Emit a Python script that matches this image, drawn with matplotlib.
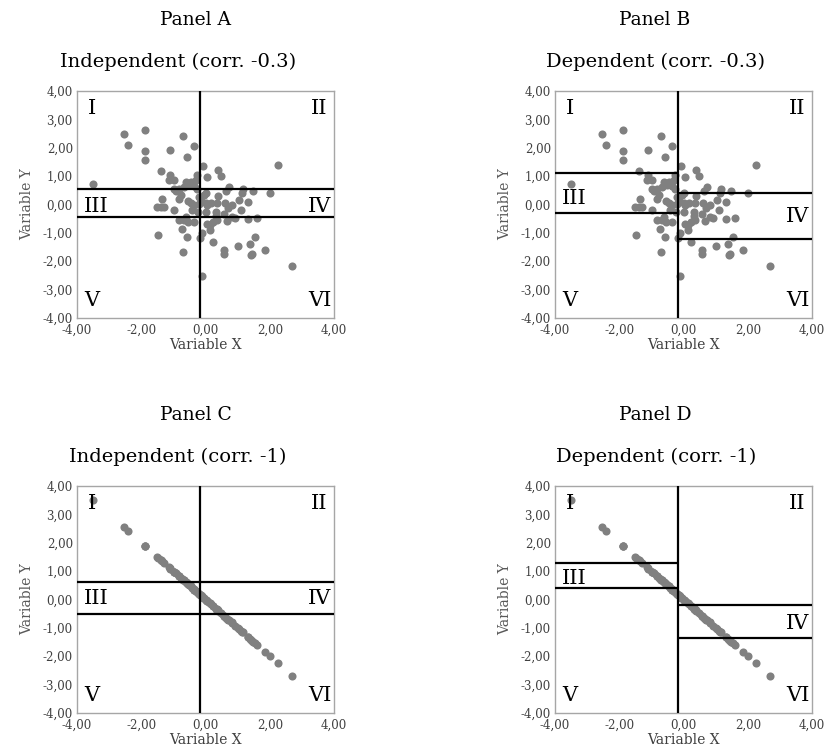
import matplotlib.pyplot as plt
from matplotlib.ticker import FuncFormatter

plt.rcParams['font.family'] = 'DejaVu Serif'

# values
x_vals = [-3.50, -2.55, -2.42, -1.88, -1.88, -1.88, -1.39, -1.09, -0.70, -0.36,
          -0.59, -1.10, -1.14, -0.98, -0.61, -0.46, -0.30, -0.67, -0.51, -0.35,
          -0.25, -0.98, -0.82, -1.34, -1.50, -1.38, -1.29, -0.98, -0.82, -0.77,
          -0.56, -0.46, -0.35, -0.41, -0.20, -0.20, -0.22, -0.67, -0.82, -0.56,
          -0.35, -0.61, -0.72, -1.47, -0.59, -0.70, -0.17, -0.10, -0.12, -0.07,
          0.38, 0.48, 0.05, 2.25, 0.74, 1.16, 1.49, 2.00, 1.14, 0.64,
          0.40, 0.03, 1.05, 1.33, 0.60, 0.81, 0.71, 1.12, 0.32, 0.17,
          0.03, 0.36, 1.59, 1.31, 0.92, 0.68, 0.35, 0.14, 0.14, 0.24,
          0.24, 0.57, 0.57, 1.02, 1.38, 1.54, 1.41, 1.46, 1.85, 2.68,
          0.06, 0.32, -0.05, 0.06, 0.84, 0.58, -0.92, -0.28, -0.15, 0.01]

y_partial = [0.72, 2.47, 2.09, 2.62, 1.87, 1.56, 1.19, 1.92, 2.42, 2.07,
             1.67, 1.04, 0.88, 0.88, 0.80, 0.80, 0.86, 0.62, 0.68, 0.65,
             1.04, 0.56, 0.56, 0.21, -0.08, -0.10, -0.08, -0.18, 0.21, 0.33,
             0.13, 0.04, -0.02, -0.20, 0.27, 0.01, -0.26, -0.55, -0.55, -0.61,
             -0.61, -0.44, -0.88, -1.08, -1.14, -1.67, -1.17, -1.02, -2.53, 1.36,
             1.22, 1.02, 0.96, 1.39, 0.62, 0.54, 0.48, 0.42, 0.39, 0.47,
             0.31, 0.39, 0.17, 0.09, 0.06, -0.02, -0.14, -0.20, -0.26, 0.04,
             0.06, 0.04, -0.47, -0.52, -0.49, -0.58, -0.55, -0.73, -0.91, -0.62,
             -1.32, -1.61, -1.73, -1.47, -1.38, -1.14, -1.79, -1.73, -1.61, -2.18,
             -0.67, -0.41, 0.33, -0.02, -0.44, -0.32, 0.48, 0.55, 0.12, -0.25]

y_perfect = [3.50, 2.55, 2.42, 1.88, 1.88, 1.88, 1.39, 1.09, 0.70, 0.36,
             0.59, 1.10, 1.14, 0.98, 0.61, 0.46, 0.30, 0.67, 0.51, 0.35,
             0.25, 0.98, 0.82, 1.34, 1.50, 1.38, 1.29, 0.98, 0.82, 0.77,
             0.56, 0.46, 0.35, 0.41, 0.20, 0.20, 0.22, 0.67, 0.82, 0.56,
             0.35, 0.61, 0.72, 1.47, 0.59, 0.70, 0.17, 0.10, 0.12, 0.07,
             -0.38, -0.48, -0.05, -2.25, -0.74, -1.16, -1.49, -2.00, -1.14, -0.64,
             -0.40, -0.03, -1.05, -1.33, -0.60, -0.81, -0.71, -1.12, -0.32, -0.17,
             -0.03, -0.36, -1.59, -1.31, -0.92, -0.68, -0.35, -0.14, -0.14, -0.24,
             -0.24, -0.57, -0.57, -1.02, -1.38, -1.54, -1.41, -1.46, -1.85, -2.68,
             -0.06, -0.32, 0.05, -0.06, -0.84, -0.58, 0.92, 0.28, 0.15, -0.01]

# quadrant boundaries
split_x = -0.17
cuts_a = [0.53, -0.45]
cuts_b_left = [1.12, -0.29]
cuts_b_right = [0.41, -1.22]
cuts_c = [0.63, -0.51]
cuts_d_left = [1.30, 0.42]
cuts_d_right = [-0.19, -1.36]

W, H = 827, 754
fig = plt.figure(figsize=(W / 100, H / 100), dpi=100)

comma = FuncFormatter(lambda v, p: f'{v:.2f}'.replace('.', ','))


def make_panel(left_px, top_px, title, title_x, subtitle, sub_x, ys,
               cut_left, cut_right, lab_mid):
    ax = fig.add_axes([left_px / W, 1 - (top_px + 227) / H, 257 / W, 227 / H])
    ax.scatter(x_vals, ys, s=34, color='#808080', zorder=2, linewidths=0)
    ax.axvline(split_x, color='black', lw=1.6, zorder=3)
    ax.hlines(cut_left, -4, split_x, color='black', lw=1.6, zorder=3)
    ax.hlines(cut_right, split_x, 4, color='black', lw=1.6, zorder=3)
    ax.set_xlim(-4, 4)
    ax.set_ylim(-4, 4)
    ax.set_xticks([-4, -2, 0, 2, 4])
    ax.set_yticks(range(-4, 5))
    ax.xaxis.set_major_formatter(comma)
    ax.yaxis.set_major_formatter(comma)
    ax.tick_params(length=0, labelsize=8.5, colors='#404040')
    ax.tick_params(axis='x', pad=4)
    ax.tick_params(axis='y', pad=3)
    for s in ax.spines.values():
        s.set_color('#a6a6a6')
        s.set_linewidth(1)
    ax.set_xlabel('Variable X', fontsize=10, color='#404040', labelpad=1)
    ax.set_ylabel('Variable Y', fontsize=10, color='#595959', labelpad=6)

    kw = dict(fontsize=15, zorder=4)
    ax.text(-3.53, 3.4, 'I', ha='center', va='center', **kw)
    ax.text(3.8, 3.4, 'II', ha='right', va='center', **kw)
    ax.text(-3.8, lab_mid[0], 'III', ha='left', va='center', **kw)
    ax.text(3.9, lab_mid[1], 'IV', ha='right', va='center', **kw)
    ax.text(-3.53, -3.4, 'V', ha='center', va='center', **kw)
    ax.text(3.92, -3.4, 'VI', ha='right', va='center', **kw)

    fig.text(title_x / W, 1 - (top_px - 71) / H, title,
             ha='center', va='center', fontsize=13.5)
    fig.text(sub_x / W, 1 - (top_px - 29) / H, subtitle,
             ha='center', va='center', fontsize=14)
    return ax


make_panel(77, 91, 'Panel A', 196, 'Independent (corr. -0.3)', 178, y_partial,
           cuts_a, cuts_a, (-0.06, -0.06))
make_panel(555, 91, 'Panel B', 655, 'Dependent (corr. -0.3)', 656, y_partial,
           cuts_b_left, cuts_b_right, (0.21, -0.44))
make_panel(77, 486, 'Panel C', 196, 'Independent (corr. -1)', 178, y_perfect,
           cuts_c, cuts_c, (0.02, 0.02))
make_panel(555, 486, 'Panel D', 655, 'Dependent (corr. -1)', 656, y_perfect,
           cuts_d_left, cuts_d_right, (0.74, -0.86))

fig.savefig('out.png', dpi=100)
